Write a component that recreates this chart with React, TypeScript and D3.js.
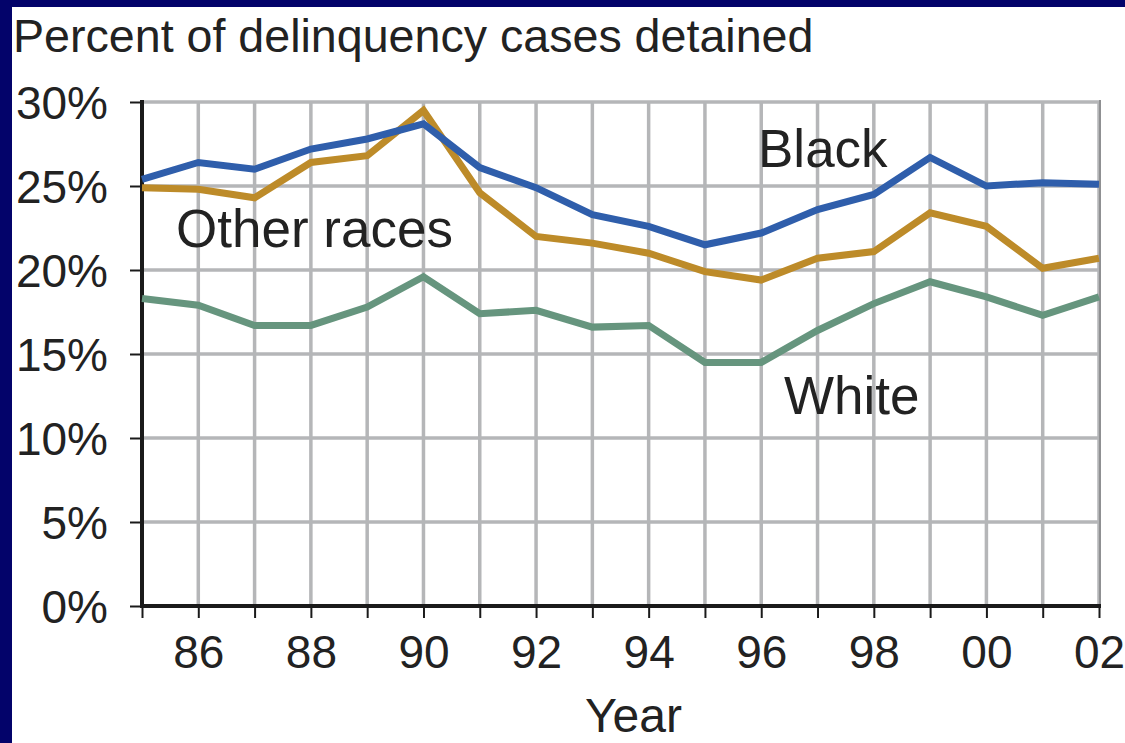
import React, { useEffect, useRef } from "react";
import * as d3 from "d3";

// years 1985..2002
const years = [1985, 1986, 1987, 1988, 1989, 1990, 1991, 1992, 1993, 1994, 1995, 1996, 1997, 1998, 1999, 2000, 2001, 2002];
const black = [25.4, 26.4, 26.0, 27.2, 27.8, 28.7, 26.1, 24.9, 23.3, 22.6, 21.5, 22.2, 23.6, 24.5, 26.7, 25.0, 25.2, 25.1];
const otherRaces = [24.9, 24.8, 24.3, 26.4, 26.8, 29.5, 24.6, 22.0, 21.6, 21.0, 19.9, 19.4, 20.7, 21.1, 23.4, 22.6, 20.1, 20.7];
const white = [18.3, 17.9, 16.7, 16.7, 17.8, 19.6, 17.4, 17.6, 16.6, 16.7, 14.5, 14.5, 16.4, 18.0, 19.3, 18.4, 17.3, 18.4];
const yTicks = [0, 5, 10, 15, 20, 25, 30];
const xLabels = ["86", "88", "90", "92", "94", "96", "98", "00", "02"];

const FONT = "'Liberation Sans', Arial, Helvetica, sans-serif";

export default function App() {
  const svgRef = useRef(null);

  useEffect(() => {
    const W = 1125, H = 743;
    const left = 142, right = 1099, top = 102, bottom = 606;

    const svg = d3.select(svgRef.current)
      .html("")
      .attr("width", W)
      .attr("height", H);

    // frame
    svg.append("rect").attr("width", W).attr("height", H).attr("fill", "#03036a");
    svg.append("rect").attr("x", 12).attr("y", 7).attr("width", W - 12).attr("height", H - 7).attr("fill", "#fff");

    const x = d3.scaleLinear().domain([1985, 2002]).range([left, right]);
    const y = d3.scaleLinear().domain([0, 30]).range([bottom, top]);

    // grid
    const grid = svg.append("g").attr("stroke", "#b5b6b8").attr("stroke-width", 3.5);
    years.slice(1).forEach(yr => {
      grid.append("line").attr("x1", x(yr)).attr("x2", x(yr)).attr("y1", top).attr("y2", bottom);
    });
    yTicks.slice(1).forEach(v => {
      grid.append("line").attr("x1", left).attr("x2", right + 1).attr("y1", y(v)).attr("y2", y(v));
    });
    svg.append("line")
      .attr("x1", right + 1).attr("x2", right + 1).attr("y1", top - 2).attr("y2", bottom)
      .attr("stroke", "#8f9092").attr("stroke-width", 2);

    // axes
    const yAxis = svg.append("g")
      .attr("transform", `translate(${left},0)`)
      .call(d3.axisLeft(y).tickValues(yTicks).tickSize(12).tickFormat(d => `${d}%`));
    yAxis.select(".domain").remove();
    yAxis.selectAll(".tick line").attr("stroke", "#1a1a1a").attr("stroke-width", 2);
    yAxis.selectAll(".tick text")
      .attr("x", -34)
      .attr("dy", "0.36em")
      .attr("fill", "#222")
      .style("font-family", FONT)
      .style("font-size", "46px");

    const xAxis = svg.append("g")
      .attr("transform", `translate(0,${bottom})`)
      .call(d3.axisBottom(x).tickValues(years).tickSize(12)
        .tickFormat(d => (Number(d) % 2 === 0 ? xLabels[(Number(d) - 1986) / 2] : "")));
    xAxis.select(".domain").remove();
    xAxis.selectAll(".tick line").attr("stroke", "#1a1a1a").attr("stroke-width", 2);
    xAxis.selectAll(".tick text")
      .attr("y", 62)
      .attr("dy", 0)
      .attr("fill", "#222")
      .style("font-family", FONT)
      .style("font-size", "46px");

    svg.append("line")
      .attr("x1", left).attr("x2", left).attr("y1", top - 2).attr("y2", bottom + 2)
      .attr("stroke", "#1a1a1a").attr("stroke-width", 4);
    svg.append("line")
      .attr("x1", left - 2).attr("x2", right + 2).attr("y1", bottom).attr("y2", bottom)
      .attr("stroke", "#1a1a1a").attr("stroke-width", 4);

    // lines
    const line = d3.line()
      .x((d, i) => x(years[i]))
      .y(d => y(d));

    const series = [
      { values: white, color: "#66957e" },
      { values: otherRaces, color: "#bd8b29" },
      { values: black, color: "#2f5eab" },
    ];
    series.forEach(s => {
      svg.append("path")
        .datum(s.values)
        .attr("fill", "none")
        .attr("stroke", s.color)
        .attr("stroke-width", 7)
        .attr("stroke-linejoin", "miter")
        .attr("d", line);
    });

    // labels
    const label = (txt, lx, ly, size) => svg.append("text")
      .attr("x", lx)
      .attr("y", ly)
      .text(txt)
      .attr("fill", "#222")
      .style("font-family", FONT)
      .style("font-size", `${size}px`);

    label("Percent of delinquency cases detained", 13, 52, 46.6);
    label("Black", 758, 167, 53);
    label("Other races", 176, 247, 53);
    label("White", 784, 414, 53);
    label("Year", 585, 732, 48);
  }, []);

  return (
    <div style={{ position: "absolute", left: 0, top: 0 }}>
      <svg ref={svgRef}></svg>
    </div>
  );
}
